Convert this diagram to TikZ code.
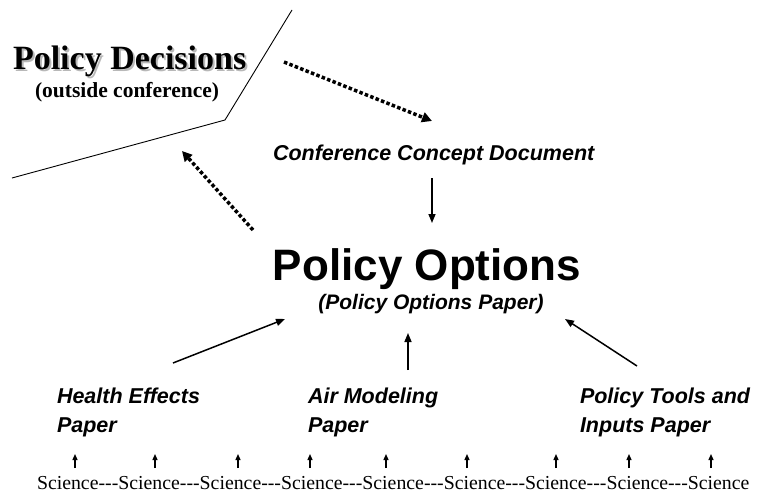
\documentclass[tikz,border=0pt]{standalone}
\usepackage{fontspec}
\setmainfont{Liberation Serif}
\setsansfont{Liberation Sans}
\usetikzlibrary{arrows.meta}
\begin{document}
\begin{tikzpicture}[x=1pt,y=-1pt,
  lbl/.style={inner sep=0pt,outer sep=0pt},
  paper/.style={lbl,anchor=base west,align=left,font=\fontsize{21.5}{29}\selectfont\sffamily\bfseries\itshape},
  solidarrow/.style={line width=1.5pt,-{Triangle[length=9pt,width=7pt]}},
  sciarrow/.style={line width=1.3pt,-{Triangle[length=6pt,width=5pt]}},
  dotarrow/.style={line width=3.5pt,dash pattern=on 3.5pt off 2.3pt,-{Triangle[length=10pt,width=10pt]}},
  border/.style={line width=0.9pt}
]
\useasboundingbox (0,0) rectangle (758,495);

% border polyline
\coordinate (pl1) at (12,178);
\coordinate (pl2) at (225,120);
\coordinate (pl3) at (292,10);
\draw[border] (pl1) -- (pl2) -- (pl3);

% title with soft shadow
\node[lbl,anchor=base west,text=black!28,font=\fontsize{34}{40}\selectfont\bfseries] (pdshadow) at (15,72) {Policy Decisions};
\node[lbl,anchor=base west,font=\fontsize{34}{40}\selectfont\bfseries] (pd) at (13,70) {Policy Decisions};
\node[lbl,anchor=base west,font=\fontsize{21.5}{26}\selectfont\bfseries] (oc) at (35,98) {(outside conference)};

% conference concept document
\node[lbl,anchor=base west,font=\fontsize{21.5}{26}\selectfont\sffamily\bfseries\itshape] (ccd) at (273,160) {Conference Concept Document};

% policy options
\node[lbl,anchor=base,font=\fontsize{44}{50}\selectfont\sffamily\bfseries] (po) at (427,280) {Policy Options};
\node[lbl,anchor=base,font=\fontsize{21}{24}\selectfont\sffamily\bfseries\itshape] (pop) at (431,309) {(Policy Options Paper)};

% papers (base = baseline of the last line)
\node[paper] (he) at (57,432) {Health Effects\\Paper};
\node[paper] (am) at (308,432) {Air Modeling\\Paper};
\node[paper] (pt) at (580,432) {Policy Tools and\\Inputs Paper};

% science row
\node[lbl,anchor=base west,font=\fontsize{19.8}{24}\selectfont] (sci) at (37,489) {Science{-}{-}{-}Science{-}{-}{-}Science{-}{-}{-}Science{-}{-}{-}Science{-}{-}{-}Science{-}{-}{-}Science{-}{-}{-}Science{-}{-}{-}Science};

% dotted arrows
\coordinate (da1) at (284,62);
\coordinate (da2) at (432,121);
\draw[dotarrow] (da1) -- (da2);
\coordinate (db1) at (253,230);
\coordinate (db2) at (182,151);
\draw[dotarrow] (db1) -- (db2);

% solid arrows
\coordinate (c1) at (432,178);
\coordinate (c2) at (432,223);
\draw[solidarrow] (c1) -- (c2);
\coordinate (l1) at (173,363);
\coordinate (l2) at (285,319);
\draw[solidarrow] (l1) -- (l2);
\coordinate (m1) at (408,370);
\coordinate (m2) at (408,333);
\draw[solidarrow] (m1) -- (m2);
\coordinate (r1) at (637,366);
\coordinate (r2) at (565,319);
\draw[solidarrow] (r1) -- (r2);

% science arrows
\foreach \i/\x in {1/75,2/155,3/238,4/310,5/386,6/467,7/556,8/629,9/711}{
  \coordinate (sb\i) at (\x,468);
  \coordinate (st\i) at (\x,454);
  \draw[sciarrow] (sb\i) -- (st\i);
}
\end{tikzpicture}
\end{document}
